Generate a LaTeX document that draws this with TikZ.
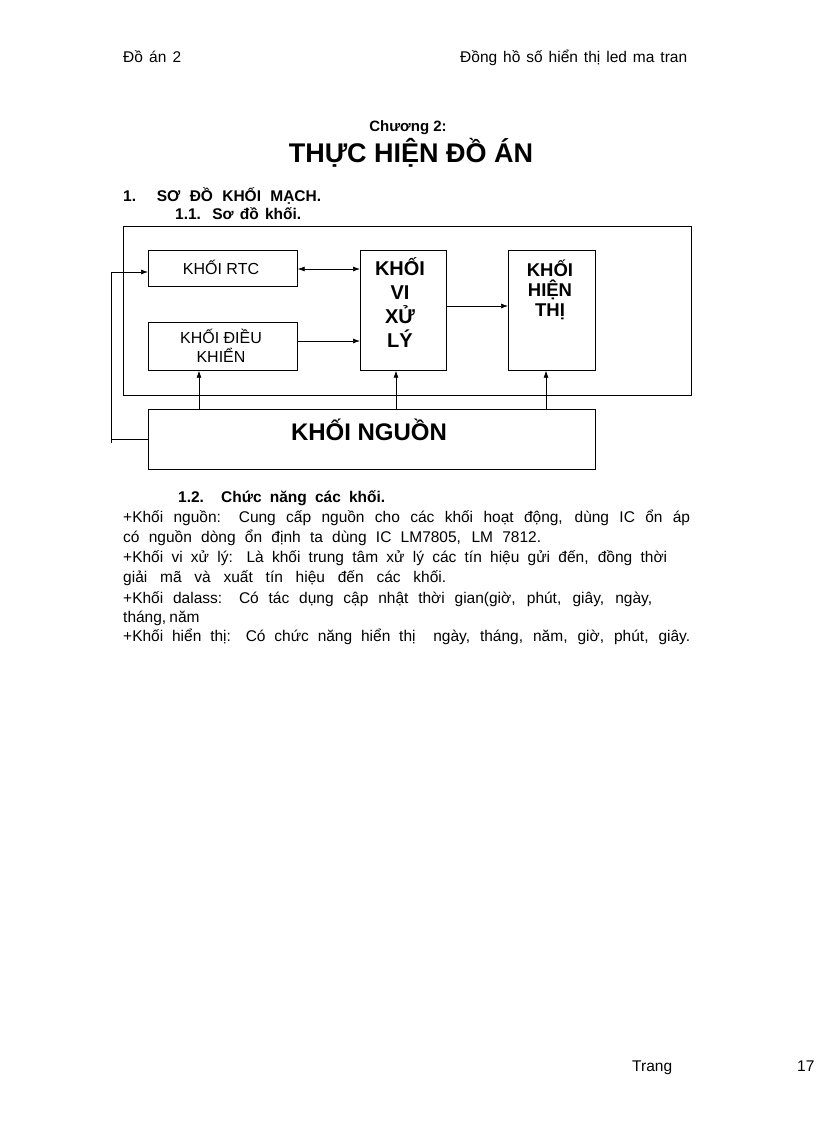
\documentclass[tikz,border=0pt]{standalone}
\usepackage{fontspec}
\setmainfont{Liberation Sans}
\usetikzlibrary{arrows.meta}
\newcommand{\sline}[2]{\makebox[#1pt][s]{#2}}
\begin{document}
\begin{tikzpicture}[x=1pt,y=-1pt,
  box/.style={draw,line width=0.7pt,inner sep=0pt},
  conn/.style={line width=0.7pt,-{Latex[length=7pt,width=5pt]}},
  txt/.style={anchor=base west,inner sep=0pt,font=\fontsize{15.5}{18}\selectfont},
  bld/.style={txt,font=\bfseries\fontsize{15.5}{18}\selectfont},
  bt/.style={font=\bfseries\fontsize{20}{24}\selectfont,align=center}]
\useasboundingbox[fill=white] (0,0) rectangle (816,1123);
\node[txt] (h1) at (123,63) {\sline{58}{Đồ án 2}};
\node[txt] (h2) at (460,63) {\sline{227}{Đồng hồ số hiển thị led ma tran}};
\node[inner sep=0pt,anchor=base,font=\bfseries\fontsize{15}{18}\selectfont] (ch) at (408,132) {Chương 2:};
\node[inner sep=0pt,anchor=base,font=\bfseries\fontsize{27}{30}\selectfont] (ti) at (411,163) {THỰC HIỆN ĐỒ ÁN};
\node[bld] (s1) at (123,202) {\sline{198}{1. SƠ ĐỒ KHỐI MẠCH.}};
\node[bld] (s11) at (175,220) {\sline{126}{1.1. Sơ đồ khối.}};
% diagram
\node[box,minimum width=568,minimum height=169,anchor=north west] (outer) at (123,226) {};
\node[box,minimum width=149,minimum height=36,anchor=north west] (rtc) at (148,250) {};
\node[font=\fontsize{16}{18}\selectfont] (rtct) at (221,267) {KHỐI RTC};
\node[box,minimum width=149,minimum height=48,anchor=north west] (dk) at (148,322) {};
\node[font=\fontsize{16}{19}\selectfont,align=center] (dkt) at (221,346) {KHỐI ĐIỀU\\KHIỂN};
\node[box,minimum width=86,minimum height=120,anchor=north west] (vi) at (360,250) {};
\node[bt,anchor=north] (vit) at (400,254) {KHỐI\\VI\\XỬ\\LÝ};
\node[box,minimum width=87,minimum height=120,anchor=north west] (ht) at (508,250) {};
\node[font=\bfseries\fontsize{18.5}{20}\selectfont,align=center,anchor=north] (htt) at (550,256) {KHỐI\\HIỆN\\THỊ};
\node[box,minimum width=447,minimum height=60,anchor=north west] (ng) at (148,409) {};
\node[font=\bfseries\fontsize{24}{26}\selectfont] (ngt) at (369,430) {KHỐI NGUỒN};
\draw[conn,{Latex[length=7pt,width=5pt]}-{Latex[length=7pt,width=5pt]}] (rtc.east|-0,269) -- (vi.west|-0,269);
\draw[conn] (dk.east|-0,341) -- (vi.west|-0,341);
\draw[conn] (vi.east|-0,306) -- (ht.west|-0,306);
\draw[conn] (ng.north-|199,0) -- (dk.south-|199,0);
\draw[conn] (ng.north-|396,0) -- (vi.south-|396,0);
\draw[conn] (ng.north-|546,0) -- (ht.south-|546,0);
\coordinate (lt) at (111,272);
\coordinate (lb) at (111,443);
\draw[line width=0.7pt] (ng.west|-0,439) -- (111,439);
\draw[line width=0.7pt] (lb) -- (lt);
\draw[conn] (lt) -- (rtc.west|-lt);
% text
\node[bld] (s12) at (178,502) {\sline{207}{1.2. Chức năng các khối.}};
\node[txt] (l1) at (123,522) {\sline{567}{+Khối nguồn: Cung cấp nguồn cho các khối hoạt động, dùng IC ổn áp}};
\node[txt] (l2) at (123,542) {\sline{418}{có nguồn dòng ổn định ta dùng IC LM7805, LM 7812.}};
\node[txt] (l3) at (123,562) {\sline{544}{+Khối vi xử lý: Là khối trung tâm xử lý các tín hiệu gửi đến, đồng thời}};
\node[txt] (l4) at (123,582) {\sline{323}{giải mã và xuất tín hiệu đến các khối.}};
\node[txt] (l5) at (123,603) {\sline{529}{+Khối dalass: Có tác dụng cập nhật thời gian(giờ, phút, giây, ngày,}};
\node[txt] (l6) at (123,622) {\sline{59}{tháng, năm}};
\node[txt] (l7) at (123,641) {\sline{567}{+Khối hiển thị: Có chức năng hiển thị \ ngày, tháng, năm, giờ, phút, giây.}};
\node[txt] (tr) at (632,1071) {\sline{41}{Trang}};
\node[txt] (pg) at (797,1071) {17};
\end{tikzpicture}
\end{document}
